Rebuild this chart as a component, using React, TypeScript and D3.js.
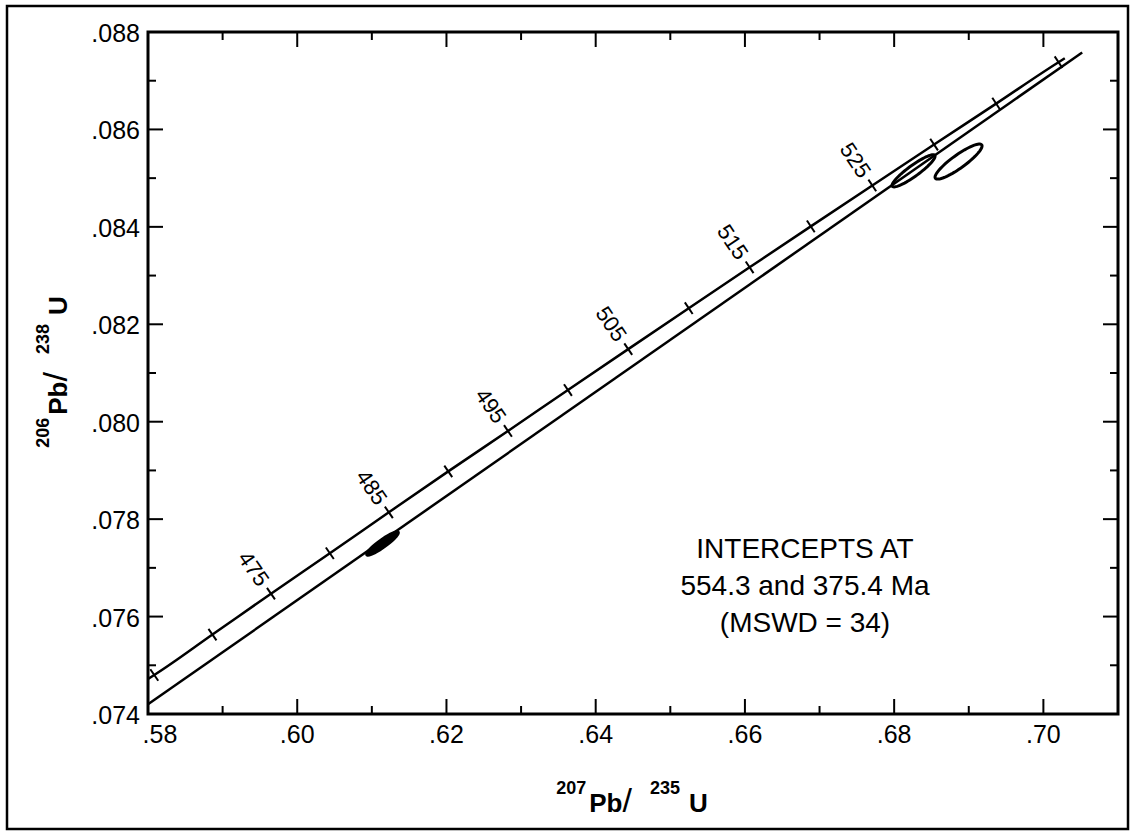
import React from "react";
import * as d3 from "d3";

const width = 1133;
const height = 831;
const plot = { left: 148, right: 1118, top: 32, bottom: 714 };

// axis ticks
const xTicks = [0.58, 0.6, 0.62, 0.64, 0.66, 0.68, 0.7];
const xMinorTicks = [0.59, 0.61, 0.63, 0.65, 0.67, 0.69];
const yTicks = [0.074, 0.076, 0.078, 0.08, 0.082, 0.084, 0.086, 0.088];
const yMinorTicks = [0.075, 0.077, 0.079, 0.081, 0.083, 0.085, 0.087];

// concordia age ticks (Ma) and their positions
const concordiaAges = [465, 470, 475, 480, 485, 490, 495, 500, 505, 510, 515, 520, 525, 530, 535, 540];
const concordiaX = [
  0.58084, 0.58864, 0.59648, 0.60437, 0.61228, 0.62024, 0.62824, 0.63628,
  0.64436, 0.65247, 0.66063, 0.66883, 0.67707, 0.68535, 0.69367, 0.70203,
];
const concordiaY = [
  0.0748, 0.07563, 0.07647, 0.0773, 0.07814, 0.07898, 0.07981, 0.08065,
  0.08149, 0.08233, 0.08317, 0.08401, 0.08485, 0.08569, 0.08653, 0.08738,
];
const concordiaStart = [0.58, 0.07472];
const concordiaEnd = [0.70287, 0.08746];
const labelledAges = [475, 485, 495, 505, 515, 525];

// discordia chord
const discordiaX = [0.58, 0.7052];
const discordiaY = [0.0742, 0.08758];

// analyses (2 sigma error ellipses)
const ellipseX = [0.61143, 0.6826, 0.68863];
const ellipseY = [0.0775, 0.08515, 0.08534];
const ellipseSx = [0.00212, 0.00288, 0.00315];
const ellipseSy = [0.00024, 0.00033, 0.00036];
const ellipseRho = [0.92, 0.91, 0.89];
const ellipseFilled = [true, false, false];

const interceptText = ["INTERCEPTS AT", "554.3 and 375.4 Ma", "(MSWD = 34)"];

const font = "'Liberation Sans', Arial, Helvetica, sans-serif";
const fmt = (d: number) => d3.format(".3f")(d).replace(/^0/, "");
const fmtX = (d: number) => d3.format(".2f")(d).replace(/^0/, "");

export default function App() {
  const x = d3.scaleLinear().domain([0.58, 0.71]).range([plot.left, plot.right]);
  const y = d3.scaleLinear().domain([0.074, 0.088]).range([plot.bottom, plot.top]);

  const concPts: [number, number][] = [
    [concordiaStart[0], concordiaStart[1]],
    ...concordiaX.map((cx, i) => [cx, concordiaY[i]] as [number, number]),
    [concordiaEnd[0], concordiaEnd[1]],
  ];
  const line = d3
    .line<[number, number]>()
    .x((d) => x(d[0]))
    .y((d) => y(d[1]))
    .curve(d3.curveMonotoneX);

  // tick marks across the concordia, perpendicular to it
  const ageMarks = concordiaAges.map((age, i) => {
    const p = concPts[i + 1];
    const a = concPts[i];
    const b = concPts[i + 2];
    const dx = x(b[0]) - x(a[0]);
    const dy = y(b[1]) - y(a[1]);
    const len = Math.hypot(dx, dy);
    const nx = -dy / len;
    const ny = dx / len;
    return {
      age,
      px: x(p[0]),
      py: y(p[1]),
      nx,
      ny,
      angle: (Math.atan2(ny, nx) * 180) / Math.PI,
    };
  });

  const ellipsePath = (i: number) => {
    const r = Math.sqrt(1 - ellipseRho[i] * ellipseRho[i]);
    const pts: [number, number][] = d3.range(0, 73).map((k) => {
      const t = (k / 72) * 2 * Math.PI;
      return [
        ellipseX[i] + ellipseSx[i] * Math.cos(t),
        ellipseY[i] + ellipseSy[i] * (ellipseRho[i] * Math.cos(t) + r * Math.sin(t)),
      ];
    });
    return d3.line<[number, number]>().x((d) => x(d[0])).y((d) => y(d[1]))(pts) + "Z";
  };

  const majorLen = 15;
  const minorLen = 8;

  return (
    <svg
      width={width}
      height={height}
      style={{ position: "absolute", left: 0, top: 0, background: "#fff" }}
      fontFamily={font}
    >
      <defs>
        <clipPath id="plotClip">
          <rect x={plot.left} y={plot.top} width={plot.right - plot.left} height={plot.bottom - plot.top} />
        </clipPath>
      </defs>
      <rect x={7} y={6} width={1121} height={823} fill="none" stroke="#000" strokeWidth={2.5} />

      {/* ticks on all four sides */}
      <g stroke="#000" strokeWidth={2}>
        {xTicks.map((t) => (
          <g key={"xt" + t}>
            <line x1={x(t)} x2={x(t)} y1={plot.bottom} y2={plot.bottom - majorLen} />
            <line x1={x(t)} x2={x(t)} y1={plot.top} y2={plot.top + majorLen} />
          </g>
        ))}
        {xMinorTicks.map((t) => (
          <g key={"xm" + t}>
            <line x1={x(t)} x2={x(t)} y1={plot.bottom} y2={plot.bottom - minorLen} />
            <line x1={x(t)} x2={x(t)} y1={plot.top} y2={plot.top + minorLen} />
          </g>
        ))}
        {yTicks.map((t) => (
          <g key={"yt" + t}>
            <line x1={plot.left} x2={plot.left + majorLen} y1={y(t)} y2={y(t)} />
            <line x1={plot.right} x2={plot.right - majorLen} y1={y(t)} y2={y(t)} />
          </g>
        ))}
        {yMinorTicks.map((t) => (
          <g key={"ym" + t}>
            <line x1={plot.left} x2={plot.left + minorLen} y1={y(t)} y2={y(t)} />
            <line x1={plot.right} x2={plot.right - minorLen} y1={y(t)} y2={y(t)} />
          </g>
        ))}
      </g>

      <g clipPath="url(#plotClip)">
        <path d={line(concPts) || ""} fill="none" stroke="#000" strokeWidth={2.5} />
        <line
          x1={x(discordiaX[0])}
          y1={y(discordiaY[0])}
          x2={x(discordiaX[1])}
          y2={y(discordiaY[1])}
          stroke="#000"
          strokeWidth={2.5}
        />
        {ageMarks.map((m) => (
          <line
            key={"am" + m.age}
            x1={m.px - 7 * m.nx}
            y1={m.py - 7 * m.ny}
            x2={m.px + 7 * m.nx}
            y2={m.py + 7 * m.ny}
            stroke="#000"
            strokeWidth={2}
          />
        ))}
        {ellipseX.map((_, i) => (
          <path
            key={"el" + i}
            d={ellipsePath(i)}
            fill={ellipseFilled[i] ? "#000" : "none"}
            stroke="#000"
            strokeWidth={3}
          />
        ))}
      </g>

      {ageMarks
        .filter((m) => labelledAges.includes(m.age))
        .map((m) => {
          const lx = m.px - 12 * m.nx;
          const ly = m.py - 12 * m.ny;
          return (
            <text
              key={"al" + m.age}
              x={lx}
              y={ly}
              fontSize={22}
              textAnchor="end"
              dominantBaseline="central"
              transform={`rotate(${m.angle} ${lx} ${ly})`}
            >
              {m.age}
            </text>
          );
        })}

      <rect
        x={plot.left}
        y={plot.top}
        width={plot.right - plot.left}
        height={plot.bottom - plot.top}
        fill="none"
        stroke="#000"
        strokeWidth={3}
      />

      {/* tick labels */}
      {yTicks.map((t) => (
        <text key={"yl" + t} x={140} y={y(t) + 1} fontSize={25} textAnchor="end" dominantBaseline="central">
          {fmt(t)}
        </text>
      ))}
      {xTicks.map((t, i) => (
        <text key={"xl" + t} x={i === 0 ? x(t) + 12 : x(t)} y={743} fontSize={25} textAnchor="middle">
          {fmtX(t)}
        </text>
      ))}

      {/* intercept annotation */}
      {interceptText.map((s, i) => (
        <text key={"it" + i} x={805} y={558 + i * 37} fontSize={28} textAnchor="middle">
          {s}
        </text>
      ))}

      {/* axis titles */}
      <text x={632} y={812} textAnchor="middle" fontWeight="bold">
        <tspan fontSize={18} dy={-18}>207</tspan>
        <tspan fontSize={26} dy={18} dx={3}>Pb</tspan>
        <tspan fontSize={34} fontWeight="normal">/</tspan>
        <tspan fontSize={18} dy={-18} dx={18}>235</tspan>
        <tspan fontSize={26} dy={18} dx={9}>U</tspan>
      </text>
      <text x={0} y={0} textAnchor="middle" fontWeight="bold" transform="translate(67 372) rotate(-90)">
        <tspan fontSize={18} dy={-18}>206</tspan>
        <tspan fontSize={26} dy={18} dx={3}>Pb</tspan>
        <tspan fontSize={34} fontWeight="normal">/</tspan>
        <tspan fontSize={18} dy={-18} dx={18}>238</tspan>
        <tspan fontSize={26} dy={18} dx={9}>U</tspan>
      </text>
    </svg>
  );
}
